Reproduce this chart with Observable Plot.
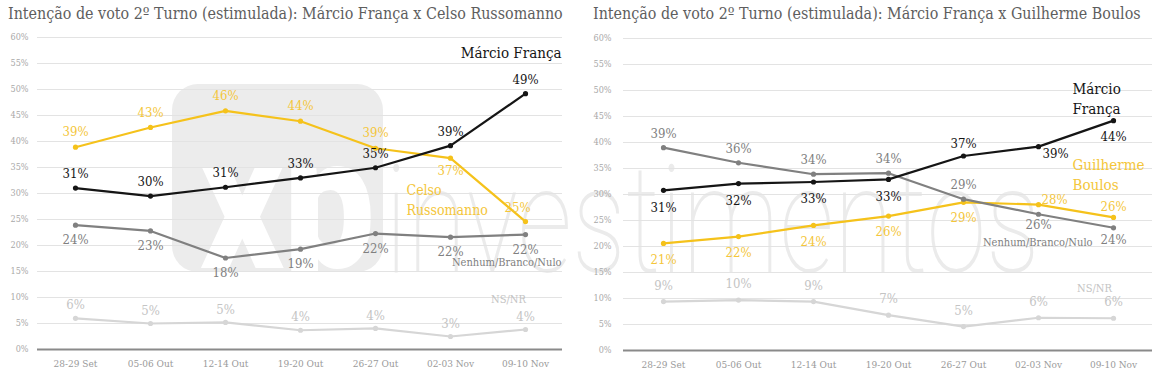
<!DOCTYPE html>
<html>
<head>
<meta charset="utf-8">
<script src="https://cdn.jsdelivr.net/npm/d3@7"></script>
<script src="https://cdn.jsdelivr.net/npm/@observablehq/plot@0.6"></script>
<style>
  body { margin: 0; background: white; }
  #wrap { position: relative; width: 1161px; height: 378px; background: white; overflow: hidden;
          font-family: "DejaVu Serif Condensed", "DejaVu Serif", serif; }
  .title { position: absolute; top: 4px; font-size: 15.9px; color: #5e5e5e; white-space: nowrap; }
  .chart { position: absolute; top: 25px; }
  #wm { position: absolute; left: 0; top: 0; }
</style>
</head>
<body>
<div id="wrap">
  <svg id="wm" width="1161" height="378">
    <defs><clipPath id="sq"><rect x="172" y="84" width="211" height="188" rx="26"></rect></clipPath></defs>
    <rect x="172" y="84" width="211" height="188" rx="26" fill="#ececec"></rect>
    <g clip-path="url(#sq)">
      <text id="wmxp" x="0" y="0" font-family="Roboto, sans-serif" font-weight="900" font-size="190" fill="#ffffff">xp</text>
    </g>
    <text id="wmtext" x="0" y="0" font-family="Roboto, sans-serif" font-weight="100" font-size="150" fill="#ebebeb">investimentos</text>
  </svg>
  <div class="title" style="left:8px">Intenção de voto 2º Turno (estimulada): Márcio França x Celso Russomanno</div>
  <div class="chart" id="c1" style="left:0px"></div>
  <div class="title" style="left:593px">Intenção de voto 2º Turno (estimulada): Márcio França x Guilherme Boulos</div>
  <div class="chart" id="c2" style="left:580px"></div>
</div>
<script>
// ---- data ----
const dates = ["28-29 Set", "05-06 Out", "12-14 Out", "19-20 Out", "26-27 Out", "02-03 Nov", "09-10 Nov"];
const yTicks = [0, 5, 10, 15, 20, 25, 30, 35, 40, 45, 50, 55, 60];

// Chart 1: Márcio França x Celso Russomanno
const francaL = [31.05, 29.5, 31.2, 33.0, 34.95, 39.2, 49.2];
const francaLLabels = ["31%", "30%", "31%", "33%", "35%", "39%", "49%"];
const russomanno = [38.9, 42.7, 45.9, 43.9, 38.7, 36.8, 24.6];
const russomannoLabels = ["39%", "43%", "46%", "44%", "39%", "37%", "25%"];
const nenhumL = [23.9, 22.8, 17.6, 19.3, 22.3, 21.6, 22.1];
const nenhumLLabels = ["24%", "23%", "18%", "19%", "22%", "22%", "22%"];
const nsnrL = [6.0, 5.0, 5.2, 3.7, 4.05, 2.5, 3.85];
const nsnrLLabels = ["6%", "5%", "5%", "4%", "4%", "3%", "4%"];

// Chart 2: Márcio França x Guilherme Boulos
const francaR = [30.8, 32.1, 32.4, 32.9, 37.4, 39.2, 44.2];
const francaRLabels = ["31%", "32%", "33%", "33%", "37%", "39%", "44%"];
const boulos = [20.6, 21.9, 24.05, 25.85, 28.5, 28.05, 25.6];
const boulosLabels = ["21%", "22%", "24%", "26%", "29%", "28%", "26%"];
const nenhumR = [39.0, 36.1, 33.9, 34.1, 29.1, 26.2, 23.6];
const nenhumRLabels = ["39%", "36%", "34%", "34%", "29%", "26%", "24%"];
const nsnrR = [9.4, 9.7, 9.4, 6.8, 4.6, 6.3, 6.2];
const nsnrRLabels = ["9%", "10%", "9%", "7%", "5%", "6%", "6%"];

// ---- watermark fit ----
function fitText(id, x, y, w) {
  const el = document.getElementById(id);
  const len = el.getComputedTextLength() || w;
  el.setAttribute("transform", `translate(${x},${y}) scale(${w / len},1)`);
}
fitText("wmtext", 385, 272, 655);
fitText("wmxp", 200, 268, 175);

// ---- helpers ----
const FONT = '"DejaVu Serif Condensed", "DejaVu Serif", serif';
const BLACK = "#151515", YELLOW = "#f5c21b", YELLOW_T = "#f4c63a", GRAY = "#808080", LIGHT = "#d6d6d6", LIGHT_T = "#c4c4c4";

function rows(vals, labels) {
  return dates.map((d, i) => ({date: d, value: vals[i], label: labels[i], i}));
}
function series(data, color) {
  return [
    Plot.line(data, {x: "date", y: "value", stroke: color, strokeWidth: 2.2}),
    Plot.dot(data, {x: "date", y: "value", fill: color, r: 2.6})
  ];
}
function labels(data, fill, dy, special = {}, fontSize = 13) {
  const marks = [Plot.text(data, {filter: d => !(d.i in special), x: "date", y: "value", text: "label", dy, fill, fontSize})];
  for (const [k, o] of Object.entries(special)) {
    marks.push(Plot.text(data, {filter: d => d.i === +k, x: "date", y: "value", text: "label", fill, fontSize, dx: o.dx || 0, dy: o.dy || 0}));
  }
  return marks;
}
function base(opts) {
  return {
    width: opts.width, height: 353,
    marginTop: opts.mt, marginBottom: opts.mb, marginLeft: opts.ml, marginRight: opts.mr,
    style: {fontFamily: FONT, background: "transparent", overflow: "visible"},
    x: {type: "point", domain: dates, padding: 0.5},
    y: {domain: [0, 60]},
  };
}
function axes(padY) {
  return [
    Plot.gridY(yTicks.filter(t => t > 0), {stroke: "#e3e3e3", strokeOpacity: 1, strokeWidth: 1}),
    Plot.ruleY([0], {stroke: "#8a8a8a", strokeWidth: 2}),
    Plot.axisY(yTicks, {tickSize: 0, tickPadding: padY, tickFormat: d => d + "%", fontSize: 9, fill: "#a8a8a8", label: null}),
    Plot.axisX({tickSize: 0, tickPadding: 10, fontSize: 10, fill: "#9a9a9a", label: null}),
  ];
}

// ---- chart 1 ----
const dFL = rows(francaL, francaLLabels), dR = rows(russomanno, russomannoLabels),
      dNL = rows(nenhumL, nenhumLLabels), dSL = rows(nsnrL, nsnrLLabels);
const chart1 = Plot.plot({
  ...base({width: 580, mt: 12, mb: 29, ml: 37, mr: 18}),
  marks: [
    ...axes(9),
    ...series(dSL, LIGHT), ...series(dNL, GRAY), ...series(dR, YELLOW), ...series(dFL, BLACK),
    ...labels(dSL, LIGHT_T, -13),
    ...labels(dNL, GRAY, 15),
    ...labels(dR, YELLOW_T, -15, {5: {dy: 13}, 6: {dx: -8, dy: -14}}),
    ...labels(dFL, BLACK, -14),
    Plot.text(["Márcio França"], {x: () => "09-10 Nov", y: () => 56.9, dx: 36, textAnchor: "end", fill: BLACK, fontSize: 15}),
    Plot.text(["Celso\nRussomanno"], {x: () => "02-03 Nov", y: () => 29, dx: -44, textAnchor: "start", fill: YELLOW_T, fontSize: 14, lineHeight: 1.45}),
    Plot.text(["Nenhum/Branco/Nulo"], {x: () => "09-10 Nov", y: () => 16.7, dx: 36, textAnchor: "end", fill: GRAY, fontSize: 11}),
    Plot.text(["NS/NR"], {x: () => "09-10 Nov", y: () => 9.6, dx: -17, fill: LIGHT_T, fontSize: 11}),
  ]
});
document.getElementById("c1").appendChild(chart1);

// ---- chart 2 ----
const dFR = rows(francaR, francaRLabels), dB = rows(boulos, boulosLabels),
      dNR = rows(nenhumR, nenhumRLabels), dSR = rows(nsnrR, nsnrRLabels);
const chart2 = Plot.plot({
  ...base({width: 581, mt: 13, mb: 28, ml: 43, mr: 9}),
  marks: [
    ...axes(12),
    ...series(dSR, LIGHT), ...series(dB, YELLOW), ...series(dNR, GRAY), ...series(dFR, BLACK),
    ...labels(dSR, LIGHT_T, -16),
    ...labels(dNR, GRAY, -14, {5: {dy: 11}, 6: {dy: 12}}),
    ...labels(dB, YELLOW_T, 16, {5: {dx: 16, dy: -5}, 6: {dy: -11}}),
    ...labels(dFR, BLACK, 17, {4: {dy: -12}, 5: {dx: 17, dy: 7}, 6: {dy: 16}}),
    Plot.text(["Márcio\nFrança"], {x: () => "09-10 Nov", y: () => 48.65, dx: -41, textAnchor: "start", fill: BLACK, fontSize: 15, lineHeight: 1.35}),
    Plot.text(["Guilherme\nBoulos"], {x: () => "09-10 Nov", y: () => 34.0, dx: -41, textAnchor: "start", fill: YELLOW_T, fontSize: 15, lineHeight: 1.35}),
    Plot.text(["Nenhum/Branco/Nulo"], {x: () => "09-10 Nov", y: () => 20.8, dx: -21, textAnchor: "end", fill: GRAY, fontSize: 11}),
    Plot.text(["NS/NR"], {x: () => "09-10 Nov", y: () => 11.9, dx: -19, fill: LIGHT_T, fontSize: 11}),
  ]
});
document.getElementById("c2").appendChild(chart2);
</script>
</body>
</html>
